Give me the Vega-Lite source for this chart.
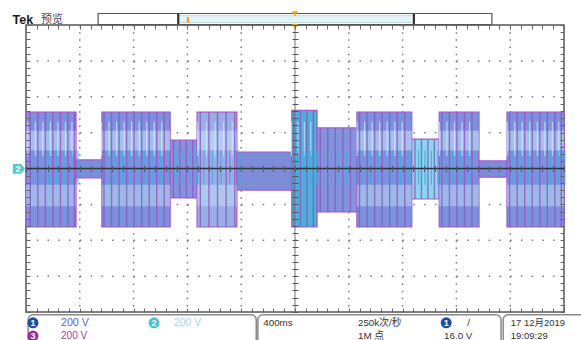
{
  "$schema": "https://vega.github.io/schema/vega-lite/v6.json",
  "width": 538,
  "height": 287,
  "autosize": {"type": "none"},
  "padding": {"left": 26, "top": 25, "right": 17, "bottom": 28},
  "background": "white",
  "view": {"stroke": "#555555", "strokeWidth": 1.5},
  "config": {"text": {"font": "Liberation Sans, Noto Sans CJK SC"}},
  "resolve": {"axis": {"x": "independent", "y": "independent"}, "scale": {"color": "independent", "fill": "independent", "size": "independent"}},
  "data": {"values": [{}]},
  "datasets": {
    "gridx": [{"v": -4}, {"v": -3}, {"v": -2}, {"v": -1}, {"v": 1}, {"v": 2}, {"v": 3}, {"v": 4}],
    "gridy": [{"v": -3}, {"v": -2}, {"v": -1}, {"v": 1}, {"v": 2}, {"v": 3}],
    "seg": [
      {"t0": -5.0, "t1": -4.07, "lo": -1.63, "hi": 1.57, "kind": "large"},
      {"t0": -4.07, "t1": -3.59, "lo": -0.26, "hi": 0.24, "kind": "small"},
      {"t0": -3.59, "t1": -2.32, "lo": -1.63, "hi": 1.57, "kind": "large"},
      {"t0": -2.32, "t1": -1.82, "lo": -0.82, "hi": 0.79, "kind": "medium"},
      {"t0": -1.82, "t1": -1.08, "lo": -1.63, "hi": 1.57, "kind": "light"},
      {"t0": -1.08, "t1": -0.06, "lo": -0.6, "hi": 0.46, "kind": "small"},
      {"t0": -0.06, "t1": 0.41, "lo": -1.63, "hi": 1.62, "kind": "teal"},
      {"t0": 0.41, "t1": 1.15, "lo": -1.21, "hi": 1.13, "kind": "medium"},
      {"t0": 1.15, "t1": 2.17, "lo": -1.63, "hi": 1.57, "kind": "large"},
      {"t0": 2.17, "t1": 2.68, "lo": -0.85, "hi": 0.82, "kind": "cyan"},
      {"t0": 2.68, "t1": 3.42, "lo": -1.63, "hi": 1.57, "kind": "large"},
      {"t0": 3.42, "t1": 3.94, "lo": -0.24, "hi": 0.21, "kind": "small"},
      {"t0": 3.94, "t1": 5.0, "lo": -1.63, "hi": 1.57, "kind": "large"}
    ],
    "stripes": [
      {"t": -4.92, "lo": -1.63, "hi": 1.57}, {"t": -4.78, "lo": -1.63, "hi": 1.57}, {"t": -4.64, "lo": -1.63, "hi": 1.57},
      {"t": -4.5, "lo": -1.63, "hi": 1.57}, {"t": -4.36, "lo": -1.63, "hi": 1.57}, {"t": -4.22, "lo": -1.63, "hi": 1.57},
      {"t": -4.1, "lo": -1.63, "hi": 1.57},
      {"t": -3.55, "lo": -1.63, "hi": 1.57}, {"t": -3.41, "lo": -1.63, "hi": 1.57}, {"t": -3.27, "lo": -1.63, "hi": 1.57},
      {"t": -3.13, "lo": -1.63, "hi": 1.57}, {"t": -2.99, "lo": -1.63, "hi": 1.57}, {"t": -2.85, "lo": -1.63, "hi": 1.57},
      {"t": -2.71, "lo": -1.63, "hi": 1.57}, {"t": -2.57, "lo": -1.63, "hi": 1.57}, {"t": -2.43, "lo": -1.63, "hi": 1.57},
      {"t": -2.26, "lo": -0.82, "hi": 0.79}, {"t": -2.14, "lo": -0.82, "hi": 0.79}, {"t": -2.02, "lo": -0.82, "hi": 0.79},
      {"t": -1.9, "lo": -0.82, "hi": 0.79},
      {"t": -1.76, "lo": -1.63, "hi": 1.57}, {"t": -1.6, "lo": -1.63, "hi": 1.57}, {"t": -1.44, "lo": -1.63, "hi": 1.57},
      {"t": -1.28, "lo": -1.63, "hi": 1.57}, {"t": -1.12, "lo": -1.63, "hi": 1.57},
      {"t": -0.02, "lo": -1.63, "hi": 1.62}, {"t": 0.1, "lo": -1.63, "hi": 1.62}, {"t": 0.22, "lo": -1.63, "hi": 1.62},
      {"t": 0.34, "lo": -1.63, "hi": 1.62},
      {"t": 0.47, "lo": -1.21, "hi": 1.13}, {"t": 0.61, "lo": -1.21, "hi": 1.13}, {"t": 0.75, "lo": -1.21, "hi": 1.13},
      {"t": 0.89, "lo": -1.21, "hi": 1.13}, {"t": 1.03, "lo": -1.21, "hi": 1.13},
      {"t": 1.2, "lo": -1.63, "hi": 1.57}, {"t": 1.34, "lo": -1.63, "hi": 1.57}, {"t": 1.48, "lo": -1.63, "hi": 1.57},
      {"t": 1.62, "lo": -1.63, "hi": 1.57}, {"t": 1.76, "lo": -1.63, "hi": 1.57}, {"t": 1.9, "lo": -1.63, "hi": 1.57},
      {"t": 2.04, "lo": -1.63, "hi": 1.57},
      {"t": 2.23, "lo": -0.85, "hi": 0.82}, {"t": 2.35, "lo": -0.85, "hi": 0.82}, {"t": 2.47, "lo": -0.85, "hi": 0.82},
      {"t": 2.59, "lo": -0.85, "hi": 0.82},
      {"t": 2.73, "lo": -1.63, "hi": 1.57}, {"t": 2.87, "lo": -1.63, "hi": 1.57}, {"t": 3.01, "lo": -1.63, "hi": 1.57},
      {"t": 3.15, "lo": -1.63, "hi": 1.57}, {"t": 3.29, "lo": -1.63, "hi": 1.57},
      {"t": 3.99, "lo": -1.63, "hi": 1.57}, {"t": 4.13, "lo": -1.63, "hi": 1.57}, {"t": 4.27, "lo": -1.63, "hi": 1.57},
      {"t": 4.41, "lo": -1.63, "hi": 1.57}, {"t": 4.55, "lo": -1.63, "hi": 1.57}, {"t": 4.69, "lo": -1.63, "hi": 1.57},
      {"t": 4.83, "lo": -1.63, "hi": 1.57}, {"t": 4.95, "lo": -1.63, "hi": 1.57}
    ],
    "panels": [
      {"a": -4.96, "b": -0.72, "lo": -5.0, "hi": -4.08, "part": "footer"},
      {"a": -0.69, "b": 3.83, "lo": -5.0, "hi": -4.08, "part": "footer"},
      {"a": 3.87, "b": 5.5, "lo": -5.0, "hi": -4.08, "part": "footer"},
      {"a": -3.66, "b": 3.66, "lo": 4.01, "hi": 4.32, "part": "hdrbox"},
      {"a": -2.17, "b": 2.21, "lo": 4.07, "hi": 4.26, "part": "hdrwin"}
    ],
    "brackets": [
      {"x": -2.17, "lo": 4.02, "hi": 4.32, "c": "dark"},
      {"x": 2.21, "lo": 4.02, "hi": 4.32, "c": "dark"},
      {"x": -1.99, "lo": 4.06, "hi": 4.22, "c": "orange"}
    ],
    "markers": [
      {"x": 0, "y": 3.96},
      {"x": 0, "y": 4.31}
    ],
    "tags": [
      {"x": -5.13, "y": -0.01, "n": "2"}
    ],
    "badges": [
      {"x": -4.87, "y": -4.3, "n": "1", "ch": "1"},
      {"x": -2.62, "y": -4.3, "n": "2", "ch": "2"},
      {"x": -4.87, "y": -4.67, "n": "3", "ch": "3"},
      {"x": 2.81, "y": -4.3, "n": "1", "ch": "1"}
    ],
    "texts": [
      {"x": -5.25, "y": 4.15, "label": "Tek", "g": "tek"},
      {"x": -4.72, "y": 4.15, "label": "预览", "g": "hdr"},
      {"x": -4.35, "y": -4.3, "label": "200 V", "g": "c1"},
      {"x": -2.25, "y": -4.3, "label": "200 V", "g": "c2"},
      {"x": -4.35, "y": -4.67, "label": "200 V", "g": "c3"},
      {"x": -0.59, "y": -4.3, "label": "400ms", "g": "info"},
      {"x": 1.17, "y": -4.3, "label": "250k次/秒", "g": "info"},
      {"x": 1.17, "y": -4.67, "label": "1M 点", "g": "info"},
      {"x": 3.2, "y": -4.3, "label": "/", "g": "info"},
      {"x": 2.77, "y": -4.67, "label": "16.0 V", "g": "info"},
      {"x": 4.01, "y": -4.3, "label": "17 12月2019", "g": "date"},
      {"x": 4.01, "y": -4.67, "label": "19:09:29", "g": "date"}
    ]
  },
  "layer": [
    {
      "data": {"name": "gridx"},
      "mark": {"type": "rule", "stroke": "#7a7a7a", "strokeWidth": 1.5, "strokeDash": [1.5, 5.68]},
      "encoding": {
        "x": {"field": "v", "type": "quantitative", "scale": {"domain": [-5, 5], "nice": false}, "axis": null},
        "y": {"datum": 4, "type": "quantitative", "scale": {"domain": [-4, 4], "nice": false}, "axis": null},
        "y2": {"datum": -4}
      }
    },
    {
      "data": {"name": "gridy"},
      "mark": {"type": "rule", "stroke": "#7a7a7a", "strokeWidth": 1.5, "strokeDash": [1.5, 9.26]},
      "encoding": {
        "y": {"field": "v", "type": "quantitative", "scale": {"domain": [-4, 4], "nice": false}, "axis": null},
        "x": {"datum": -5, "type": "quantitative", "scale": {"domain": [-5, 5], "nice": false}, "axis": null},
        "x2": {"datum": 5}
      }
    },
    {
      "data": {"name": "seg"},
      "mark": {"type": "rect", "stroke": "#a55ac9", "strokeWidth": 1.2},
      "encoding": {
        "x": {"field": "t0", "type": "quantitative", "scale": {"domain": [-5, 5], "nice": false}, "axis": null},
        "x2": {"field": "t1"},
        "y": {"field": "lo", "type": "quantitative", "scale": {"domain": [-4, 4], "nice": false}, "axis": null},
        "y2": {"field": "hi"},
        "fill": {"field": "kind", "type": "nominal", "legend": null,
          "scale": {"domain": ["large", "light", "teal", "medium", "cyan", "small"], "range": ["#7d92dc", "#98aee4", "#4cb0d8", "#8494dc", "#8ad6ec", "#7c8cd8"]}}
      }
    },
    {
      "data": {"name": "seg"},
      "transform": [{"filter": "datum.kind == 'large' || datum.kind == 'light'"}],
      "mark": {"type": "rect", "fill": "#c6e8f7", "opacity": 0.55},
      "encoding": {
        "x": {"field": "t0", "type": "quantitative", "scale": {"domain": [-5, 5], "nice": false}, "axis": null},
        "x2": {"field": "t1"},
        "y": {"datum": 0.5, "type": "quantitative", "scale": {"domain": [-4, 4], "nice": false}, "axis": null},
        "y2": {"datum": 1.05}
      }
    },
    {
      "data": {"name": "seg"},
      "transform": [{"filter": "datum.kind == 'large' || datum.kind == 'light'"}],
      "mark": {"type": "rect", "fill": "#c6e8f7", "opacity": 0.45},
      "encoding": {
        "x": {"field": "t0", "type": "quantitative", "scale": {"domain": [-5, 5], "nice": false}, "axis": null},
        "x2": {"field": "t1"},
        "y": {"datum": -0.45, "type": "quantitative", "scale": {"domain": [-4, 4], "nice": false}, "axis": null},
        "y2": {"datum": -1.05}
      }
    },
    {
      "data": {"name": "stripes"},
      "mark": {"type": "rule", "stroke": "#8d55c6", "strokeWidth": 1.4, "opacity": 0.8},
      "encoding": {
        "x": {"field": "t", "type": "quantitative", "scale": {"domain": [-5, 5], "nice": false},
          "axis": {"title": null, "orient": "bottom", "offset": -4, "tickCount": 50, "tickSize": 4, "tickColor": "#666666", "ticks": true, "domain": false, "grid": false, "labels": false, "zindex": 1}},
        "y": {"field": "lo", "type": "quantitative", "scale": {"domain": [-4, 4], "nice": false},
          "axis": {"title": null, "orient": "left", "offset": -4, "tickCount": 40, "tickSize": 4, "tickColor": "#666666", "ticks": true, "domain": false, "grid": false, "labels": false, "zindex": 1}},
        "y2": {"field": "hi"}
      }
    },
    {
      "data": {"name": "stripes"},
      "transform": [{"filter": "datum.hi > 1.5"}],
      "mark": {"type": "rule", "stroke": "#d4ecf8", "strokeWidth": 1.2, "opacity": 0.7, "xOffset": -2.5},
      "encoding": {
        "x": {"field": "t", "type": "quantitative", "scale": {"domain": [-5, 5], "nice": false}, "axis": null},
        "y": {"datum": 0.35, "type": "quantitative", "scale": {"domain": [-4, 4], "nice": false}, "axis": null},
        "y2": {"datum": 1.3}
      }
    },
    {
      "data": {"name": "stripes"},
      "mark": {"type": "rule", "stroke": "#35b2e3", "strokeWidth": 1.2, "opacity": 0.85, "xOffset": 3.5},
      "encoding": {
        "x": {"field": "t", "type": "quantitative", "scale": {"domain": [-5, 5], "nice": false}, "axis": null},
        "y": {"datum": -0.45, "type": "quantitative", "scale": {"domain": [-4, 4], "nice": false}, "axis": null},
        "y2": {"datum": 0.5}
      }
    },
    {
      "mark": {"type": "rule", "stroke": "#30303c", "strokeWidth": 1.5},
      "encoding": {
        "x": {"datum": -5, "type": "quantitative", "scale": {"domain": [-5, 5], "nice": false},
          "axis": {"title": null, "orient": "top", "offset": -4, "tickCount": 50, "tickSize": 4, "tickColor": "#666666", "ticks": true, "domain": false, "grid": false, "labels": false, "zindex": 1}},
        "x2": {"datum": 5},
        "y": {"datum": 0, "type": "quantitative", "scale": {"domain": [-4, 4], "nice": false},
          "axis": {"title": null, "orient": "right", "offset": -4, "tickCount": 40, "tickSize": 4, "tickColor": "#666666", "ticks": true, "domain": false, "grid": false, "labels": false, "zindex": 1}}
      }
    },
    {
      "mark": {"type": "rule", "stroke": "#777777", "strokeWidth": 1},
      "encoding": {
        "x": {"datum": 0, "type": "quantitative", "scale": {"domain": [-5, 5], "nice": false},
          "axis": {"title": null, "orient": "bottom", "offset": -146.5, "tickCount": 50, "tickSize": 6, "tickColor": "#555555", "ticks": true, "domain": false, "grid": false, "labels": false, "zindex": 1}},
        "y": {"datum": -4, "type": "quantitative", "scale": {"domain": [-4, 4], "nice": false},
          "axis": {"title": null, "orient": "left", "offset": -272, "tickCount": 40, "tickSize": 6, "tickColor": "#555555", "ticks": true, "domain": false, "grid": false, "labels": false, "zindex": 1}},
        "y2": {"datum": 4}
      }
    },
    {
      "data": {"name": "panels"},
      "transform": [{"filter": "datum.part == 'hdrbox'"}],
      "mark": {"type": "rect", "fill": "white", "stroke": "#555555", "strokeWidth": 1.2},
      "encoding": {
        "x": {"field": "a", "type": "quantitative", "scale": {"domain": [-5, 5], "nice": false}, "axis": null},
        "x2": {"field": "b"},
        "y": {"field": "lo", "type": "quantitative", "scale": {"domain": [-4, 4], "nice": false}, "axis": null},
        "y2": {"field": "hi"}
      }
    },
    {
      "data": {"name": "panels"},
      "transform": [{"filter": "datum.part == 'hdrwin'"}],
      "mark": {"type": "rect", "fill": "#e2f2f9", "stroke": "#bcdbe8", "strokeWidth": 1},
      "encoding": {
        "x": {"field": "a", "type": "quantitative", "scale": {"domain": [-5, 5], "nice": false}, "axis": null},
        "x2": {"field": "b"},
        "y": {"field": "lo", "type": "quantitative", "scale": {"domain": [-4, 4], "nice": false}, "axis": null},
        "y2": {"field": "hi"}
      }
    },
    {
      "data": {"name": "brackets"},
      "mark": {"type": "rule", "strokeWidth": 2.2},
      "encoding": {
        "x": {"field": "x", "type": "quantitative", "scale": {"domain": [-5, 5], "nice": false}, "axis": null},
        "y": {"field": "lo", "type": "quantitative", "scale": {"domain": [-4, 4], "nice": false}, "axis": null},
        "y2": {"field": "hi"},
        "color": {"field": "c", "type": "nominal", "legend": null, "scale": {"domain": ["dark", "orange"], "range": ["#333333", "#f0a020"]}}
      }
    },
    {
      "data": {"name": "markers"},
      "mark": {"type": "point", "shape": "triangle-down", "filled": true, "size": 40, "color": "#f0a020", "opacity": 1},
      "encoding": {
        "x": {"field": "x", "type": "quantitative", "scale": {"domain": [-5, 5], "nice": false}, "axis": null},
        "y": {"field": "y", "type": "quantitative", "scale": {"domain": [-4, 4], "nice": false}, "axis": null}
      }
    },
    {
      "data": {"name": "panels"},
      "transform": [{"filter": "datum.part == 'footer'"}],
      "mark": {"type": "rect", "fill": "white", "fillOpacity": 0, "stroke": "#8a8a8a", "strokeWidth": 1.5, "cornerRadius": 5},
      "encoding": {
        "x": {"field": "a", "type": "quantitative", "scale": {"domain": [-5, 5], "nice": false}, "axis": null},
        "x2": {"field": "b"},
        "y": {"field": "lo", "type": "quantitative", "scale": {"domain": [-4, 4], "nice": false}, "axis": null},
        "y2": {"field": "hi"}
      }
    },
    {
      "data": {"name": "tags"},
      "mark": {"type": "point", "shape": "M-1,-0.8L0.35,-0.8L1,0L0.35,0.8L-1,0.8Z", "filled": true, "size": 150, "color": "#5fc4cc", "opacity": 1},
      "encoding": {
        "x": {"field": "x", "type": "quantitative", "scale": {"domain": [-5, 5], "nice": false}, "axis": null},
        "y": {"field": "y", "type": "quantitative", "scale": {"domain": [-4, 4], "nice": false}, "axis": null}
      }
    },
    {
      "data": {"name": "tags"},
      "mark": {"type": "text", "fontSize": 9, "fontWeight": "bold", "color": "white", "dx": -1, "baseline": "middle"},
      "encoding": {
        "x": {"field": "x", "type": "quantitative", "scale": {"domain": [-5, 5], "nice": false}, "axis": null},
        "y": {"field": "y", "type": "quantitative", "scale": {"domain": [-4, 4], "nice": false}, "axis": null},
        "text": {"field": "n"}
      }
    },
    {
      "data": {"name": "badges"},
      "mark": {"type": "point", "shape": "circle", "filled": true, "size": 120, "opacity": 1},
      "encoding": {
        "x": {"field": "x", "type": "quantitative", "scale": {"domain": [-5, 5], "nice": false}, "axis": null},
        "y": {"field": "y", "type": "quantitative", "scale": {"domain": [-4, 4], "nice": false}, "axis": null},
        "color": {"field": "ch", "type": "nominal", "legend": null, "scale": {"domain": ["1", "2", "3"], "range": ["#1d4c9e", "#4fc0d0", "#9c2a9a"]}}
      }
    },
    {
      "data": {"name": "badges"},
      "mark": {"type": "text", "fontSize": 9, "fontWeight": "bold", "color": "white", "baseline": "middle", "align": "center"},
      "encoding": {
        "x": {"field": "x", "type": "quantitative", "scale": {"domain": [-5, 5], "nice": false}, "axis": null},
        "y": {"field": "y", "type": "quantitative", "scale": {"domain": [-4, 4], "nice": false}, "axis": null},
        "text": {"field": "n"}
      }
    },
    {
      "data": {"name": "texts"},
      "transform": [{"filter": "datum.g == 'tek'"}],
      "mark": {"type": "text", "fontSize": 12.5, "fontWeight": "bold", "color": "#1a1a1a", "align": "left", "baseline": "middle"},
      "encoding": {
        "x": {"field": "x", "type": "quantitative", "scale": {"domain": [-5, 5], "nice": false}, "axis": null},
        "y": {"field": "y", "type": "quantitative", "scale": {"domain": [-4, 4], "nice": false}, "axis": null},
        "text": {"field": "label"}
      }
    },
    {
      "data": {"name": "texts"},
      "transform": [{"filter": "datum.g != 'tek'"}],
      "mark": {"type": "text", "align": "left", "baseline": "middle"},
      "encoding": {
        "x": {"field": "x", "type": "quantitative", "scale": {"domain": [-5, 5], "nice": false}, "axis": null},
        "y": {"field": "y", "type": "quantitative", "scale": {"domain": [-4, 4], "nice": false}, "axis": null},
        "text": {"field": "label"},
        "color": {"field": "g", "type": "nominal", "legend": null,
          "scale": {"domain": ["hdr", "c1", "c2", "c3", "info", "date"], "range": ["#4a4a4a", "#5b5fc7", "#a9d4e4", "#9b3fb0", "#333333", "#333333"]}},
        "size": {"field": "g", "type": "ordinal", "legend": null,
          "scale": {"domain": ["hdr", "c1", "c2", "c3", "info", "date"], "range": [11, 9.5, 9.5, 9.5, 10.5, 11.5]}}
      }
    }
  ]
}
